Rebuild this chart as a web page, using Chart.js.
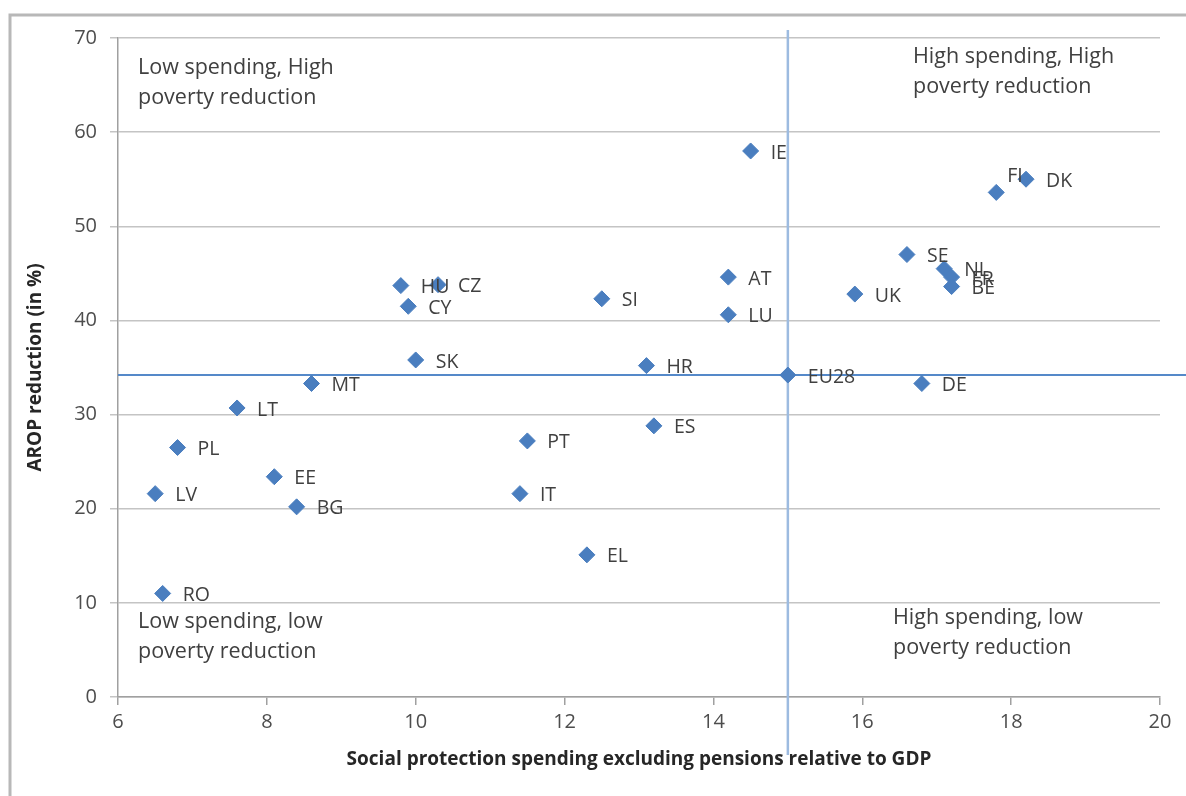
<!DOCTYPE html>
<html>
<head>
<meta charset="utf-8">
<script src="https://cdn.jsdelivr.net/npm/chart.js@4"></script>
<style>
  html, body { margin: 0; padding: 0; background: #fff; }
  canvas { display: block; }
</style>
</head>
<body>
<canvas id="canvas" width="1186" height="796"></canvas>
<script>
// country codes with spending (x, % of GDP) and AROP reduction (y, %)
let countries = ['IE', 'FI', 'DK', 'SE', 'NL', 'FR', 'BE', 'UK', 'AT', 'LU', 'SI', 'HR',
  'EU28', 'DE', 'ES', 'PT', 'IT', 'EL', 'HU', 'CZ', 'CY', 'SK', 'MT', 'LT', 'PL', 'EE',
  'BG', 'LV', 'RO'];
let spending = [14.5, 17.8, 18.2, 16.6, 17.1, 17.2, 17.2, 15.9, 14.2, 14.2, 12.5, 13.1,
  15.0, 16.8, 13.2, 11.5, 11.4, 12.3, 9.8, 10.3, 9.9, 10.0, 8.6, 7.6, 6.8, 8.1,
  8.4, 6.5, 6.6];
let reduction = [58.0, 53.6, 55.0, 47.0, 45.5, 44.6, 43.6, 42.8, 44.6, 40.6, 42.3, 35.2,
  34.2, 33.3, 28.8, 27.2, 21.6, 15.1, 43.7, 43.8, 41.5, 35.8, 33.3, 30.7, 26.5, 23.4,
  20.2, 21.6, 11.0];

// EU28 reference split
let refX = 15.0;
let refY = 34.2;

// quadrant notes: top-left, top-right, bottom-left, bottom-right
let notes = [
  ['Low spending, High', 'poverty reduction'],
  ['High spending, High', 'poverty reduction'],
  ['Low spending, low', 'poverty reduction'],
  ['High spending, low', 'poverty reduction']
];

let points = [];
for (let i = 0; i < countries.length; i++) {
  points.push({ x: spending[i], y: reduction[i] });
}

const FONT = '"Open Sans", Lato, sans-serif';

// grey frame round the picture
let framePlugin = {
  id: 'frame',
  beforeDraw(chart) {
    let ctx = chart.ctx;
    ctx.save();
    ctx.fillStyle = '#fff';
    ctx.fillRect(0, 0, chart.width, chart.height);
    ctx.strokeStyle = '#b8b8b8';
    ctx.lineWidth = 3;
    ctx.beginPath();
    ctx.moveTo(10, chart.height);
    ctx.lineTo(10, 15);
    ctx.lineTo(chart.width, 15);
    ctx.stroke();
    ctx.restore();
  }
};

// EU28 cross lines, drawn under the markers
let crossPlugin = {
  id: 'cross',
  beforeDatasetsDraw(chart) {
    let ctx = chart.ctx;
    let area = chart.chartArea;
    let px = chart.scales.x.getPixelForValue(refX);
    let py = chart.scales.y.getPixelForValue(refY);
    ctx.save();
    ctx.lineWidth = 2.5;
    ctx.strokeStyle = '#9dbbe0';
    ctx.beginPath();
    ctx.moveTo(px, area.top - 8);
    ctx.lineTo(px, area.bottom + 58);
    ctx.stroke();
    ctx.lineWidth = 2;
    ctx.strokeStyle = '#5589c9';
    ctx.beginPath();
    ctx.moveTo(area.left, py);
    ctx.lineTo(chart.width, py);
    ctx.stroke();
    ctx.restore();
  }
};

// country labels next to markers, plus quadrant notes
let labelPlugin = {
  id: 'labels',
  afterDatasetsDraw(chart) {
    let ctx = chart.ctx;
    let area = chart.chartArea;
    let meta = chart.getDatasetMeta(0);
    ctx.save();
    ctx.font = '19.5px ' + FONT;
    ctx.fillStyle = '#404040';
    ctx.textAlign = 'left';
    ctx.textBaseline = 'middle';
    meta.data.forEach(function(pt, i) {
      let dx = 20, dy = 2;
      if (countries[i] == 'FI') { dx = 11; dy = -16; }
      ctx.fillText(countries[i], pt.x + dx, pt.y + dy);
    });

    ctx.font = '21.5px ' + FONT;
    let spots = [
      [area.left + 20, area.top + 30],
      [area.right - 247, area.top + 19],
      [area.left + 20, area.bottom - 75],
      [area.right - 267, area.bottom - 79]
    ];
    notes.forEach(function(lines, i) {
      lines.forEach(function(line, j) {
        ctx.fillText(line, spots[i][0], spots[i][1] + j * 30);
      });
    });
    ctx.restore();
  }
};

let options = {
  type: 'scatter',
  data: {
    datasets: [{
      data: points,
      pointStyle: 'rectRot',
      pointRadius: 8,
      pointHoverRadius: 8,
      backgroundColor: '#4a7ebf',
      borderColor: '#4a7ebf',
      borderWidth: 1
    }]
  },
  options: {
    responsive: false,
    animation: false,
    layout: { padding: { top: 38, right: 26, left: 0, bottom: 0 } },
    plugins: {
      legend: { display: false },
      tooltip: { enabled: false }
    },
    scales: {
      x: {
        type: 'linear',
        min: 6,
        max: 20,
        afterFit: function(scale) { scale.height = 99; },
        ticks: {
          stepSize: 2,
          color: '#4d4d4d',
          font: { family: FONT, size: 20 },
          padding: 5
        },
        grid: {
          drawOnChartArea: false,
          tickLength: 8,
          color: '#a0a0a0',
          lineWidth: 1.5
        },
        border: { color: '#a0a0a0', width: 1.5 },
        title: {
          display: true,
          text: 'Social protection spending excluding pensions relative to GDP',
          color: '#262626',
          font: { family: FONT, size: 19, weight: 'bold' },
          padding: { top: 0, bottom: 25 }
        }
      },
      y: {
        min: 0,
        max: 70,
        afterFit: function(scale) { scale.width = 118; },
        ticks: {
          stepSize: 10,
          color: '#4d4d4d',
          font: { family: FONT, size: 20 },
          padding: 13
        },
        grid: {
          color: '#c4c4c4',
          lineWidth: 1.5,
          tickLength: 8
        },
        border: { color: '#a0a0a0', width: 1.5 },
        title: {
          display: true,
          text: 'AROP reduction (in %)',
          color: '#262626',
          font: { family: FONT, size: 19, weight: 'bold' },
          padding: { top: 24, bottom: 0 }
        }
      }
    }
  },
  plugins: [framePlugin, crossPlugin, labelPlugin]
};

let chart = new Chart(document.getElementById('canvas'), options);
</script>
</body>
</html>
